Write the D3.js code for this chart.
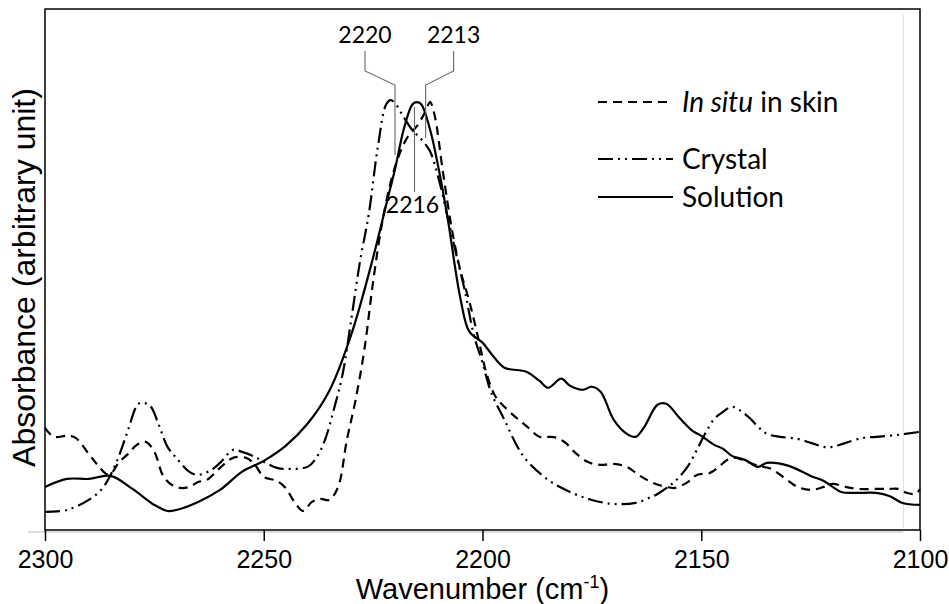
<!DOCTYPE html>
<html>
<head>
<meta charset="utf-8">
<script src="https://cdn.jsdelivr.net/npm/d3@7"></script>
<style>
    body { margin: 0; background: #fff; }
    #spectrum-vis { width: 949px; height: 604px; }
</style>
</head>
<body>
<div id="spectrum-vis"></div>
<script>

// wavenumber (cm-1) / absorbance pairs
var solutionWn = [2300, 2295, 2290, 2285, 2280, 2275, 2272, 2270, 2265, 2260, 2255, 2250, 2245, 2240, 2235, 2230, 2225, 2222, 2220, 2218, 2216, 2215, 2214, 2212, 2210, 2208, 2205, 2203, 2200, 2198, 2195, 2190, 2187, 2185, 2182, 2180, 2177, 2175, 2173, 2170, 2167, 2165, 2163, 2160, 2158, 2155, 2152, 2150, 2147, 2145, 2143, 2140, 2137, 2135, 2130, 2125, 2122, 2118, 2115, 2110, 2107, 2104, 2100];
var solutionAbs = [10.75, 12.75, 12.75, 13.5, 10.25, 6.25, 4.75, 5, 7, 10, 14.5, 17.25, 21, 26.5, 34.75, 48.75, 68, 81.25, 90, 100, 106.25, 106.75, 106.25, 100, 90, 78, 57.5, 49.5, 46.75, 44, 40.5, 39.5, 37.25, 35.5, 37.75, 36, 35, 35.75, 34.5, 27.5, 24, 23.25, 25.75, 31.25, 31.5, 28, 24.75, 23.5, 21.25, 20.25, 18.5, 17.5, 15.75, 16.75, 16, 13.5, 12.25, 9.5, 9.25, 9.25, 8.5, 6.75, 6.25];

var crystalWn = [2300, 2295, 2290, 2287, 2285, 2283, 2281, 2279, 2278, 2276, 2274, 2272, 2270, 2267, 2265, 2262, 2260, 2257, 2255, 2252, 2250, 2247, 2245, 2240, 2238, 2236, 2234, 2232, 2230, 2228, 2226, 2224, 2222, 2221, 2220, 2218, 2216, 2214, 2212, 2210, 2208, 2206, 2204, 2202, 2200, 2198, 2195, 2192, 2190, 2185, 2180, 2175, 2170, 2165, 2162, 2160, 2157, 2155, 2153, 2151, 2149, 2147, 2145, 2143, 2141, 2139, 2137, 2135, 2132, 2128, 2125, 2122, 2120, 2117, 2113, 2110, 2105, 2100];
var crystalAbs = [4.5, 5, 7.5, 10.25, 13.75, 18.75, 25, 31, 31.75, 31, 26.25, 20.75, 18, 14.5, 13.75, 15, 16.75, 20, 19.5, 18.25, 17, 15.5, 15.25, 15.75, 18, 22.5, 30, 38.75, 52.5, 67, 78.75, 95, 106.25, 107.25, 106.5, 103, 99.75, 97.5, 94.5, 87.5, 78.25, 68.75, 59.5, 48.75, 41.75, 34.25, 27.5, 20.75, 17.5, 12.5, 9.5, 7.5, 6.5, 6.75, 8, 9, 11.25, 13.25, 16, 20, 24.25, 27.75, 29.5, 30.75, 29.75, 28, 25.75, 24, 23.25, 22.75, 21.75, 20.75, 20.75, 21.75, 23, 23.25, 23.75, 24.5];

var inSituWn = [2300, 2298, 2295, 2293, 2290, 2288, 2286, 2285, 2283, 2281, 2279, 2277, 2275, 2273, 2271, 2269, 2267, 2265, 2263, 2260, 2257, 2254, 2252, 2250, 2247, 2245, 2243, 2241, 2239, 2237, 2235, 2233, 2231, 2229, 2227, 2225, 2223, 2221, 2219, 2217, 2215, 2213, 2212, 2211, 2209, 2207, 2205, 2203, 2201, 2199, 2197, 2195, 2192, 2190, 2187, 2185, 2183, 2181, 2179, 2176, 2173, 2170, 2167, 2164, 2161, 2158, 2156, 2153, 2151, 2148, 2146, 2144, 2142, 2140, 2137, 2134, 2131, 2128, 2125, 2122, 2120, 2117, 2114, 2110, 2107, 2105, 2103, 2101, 2100];
var inSituAbs = [25.5, 23.25, 23.5, 23, 19, 16.25, 14, 14, 17, 19, 21.25, 22, 19.5, 13.5, 11.25, 10.5, 10.75, 12, 12.5, 15.5, 18, 18, 16.25, 13.25, 12.25, 10.5, 7, 4.75, 7, 7.75, 7.5, 10.75, 22.5, 32.5, 45, 62, 76.25, 86.75, 93.75, 98.25, 100.75, 104.5, 106.75, 103.75, 89, 75, 64.5, 57, 48, 38.75, 33.25, 30.75, 27.75, 26, 23.25, 23.25, 23, 21.75, 19.5, 17, 16.25, 16.5, 15.75, 13.5, 11.75, 10.75, 10.5, 12, 13.75, 14.25, 15.75, 17.5, 18, 17.25, 16, 15.25, 13, 10.75, 10, 10.75, 11.5, 10.75, 10.25, 10.25, 10.25, 10.25, 9.25, 9, 10.25];

var seriesNames = ["In situ in skin", "Crystal", "Solution"];
var xTicks = [2300, 2250, 2200, 2150, 2100];
var peakLabels = [2220, 2213, 2216];


function Spectrum() {
    var self = this;
    self.init();
};

Spectrum.prototype.init = function () {
    var self = this;
    self.margin = { top: 9, right: 29, bottom: 74, left: 45 };
    self.width = 949 - self.margin.left - self.margin.right;
    self.height = 604 - self.margin.top - self.margin.bottom;

    self.svg = d3.select("#spectrum-vis").append("svg")
        .attr("width", 949)
        .attr("height", 604);

    self.g = self.svg.append("g")
        .attr("transform", "translate(" + self.margin.left + "," + self.margin.top + ")");

    self.x = d3.scaleLinear().domain([2300, 2100]).range([0, self.width]);
    self.y = d3.scaleLinear().domain([0, 130]).range([self.height, 0]);
};

Spectrum.prototype.update = function () {
    var self = this;
    var g = self.g, x = self.x, y = self.y;

    var series = [
        { name: seriesNames[0], wn: inSituWn, abs: inSituAbs, dash: "9,6" },
        { name: seriesNames[1], wn: crystalWn, abs: crystalAbs, dash: "15,5,2,5,2,5" },
        { name: seriesNames[2], wn: solutionWn, abs: solutionAbs, dash: null }
    ];
    series.forEach(function (s) {
        s.points = s.wn.map(function (w, i) { return { wn: w, abs: s.abs[i] }; });
    });

    // faint guide lines left over in the original figure
    g.append("line")
        .attr("x1", -17).attr("x2", x(2103.8))
        .attr("y1", self.height + 2).attr("y2", self.height + 2)
        .attr("stroke", "#bbb").attr("stroke-width", 1);
    g.append("line")
        .attr("x1", x(2103.8)).attr("x2", x(2103.8))
        .attr("y1", 6).attr("y2", self.height - 2)
        .attr("stroke", "#ddd").attr("stroke-width", 1);

    // DRAW THE SPECTRA
    var line = d3.line()
        .x(function (d) { return x(d.wn); })
        .y(function (d) { return y(d.abs); })
        .curve(d3.curveCatmullRom.alpha(0.5));

    g.selectAll(".spectrum")
        .data(series)
        .join("path")
        .attr("class", "spectrum")
        .attr("d", function (d) { return line(d.points); })
        .attr("fill", "none")
        .attr("stroke", "#000")
        .attr("stroke-width", 2.2)
        .attr("stroke-dasharray", function (d) { return d.dash; });

    // FRAME AND AXIS
    g.append("rect")
        .attr("width", self.width)
        .attr("height", self.height)
        .attr("fill", "none")
        .attr("stroke", "#000")
        .attr("stroke-width", 1.5);

    var xAxis = g.append("g")
        .attr("transform", "translate(0," + self.height + ")")
        .call(d3.axisBottom(x)
            .tickValues(xTicks)
            .tickSize(11)
            .tickSizeOuter(0)
            .tickPadding(9)
            .tickFormat(d3.format("d")));
    xAxis.select(".domain").remove();
    xAxis.selectAll(".tick line").attr("stroke", "#000").attr("stroke-width", 1.5);
    xAxis.selectAll(".tick text")
        .attr("fill", "#000")
        .style("font-family", "'Liberation Sans', Arial, sans-serif")
        .style("font-size", "25px");

    var xLabel = self.svg.append("text")
        .attr("x", self.margin.left + self.width / 2)
        .attr("y", 599)
        .attr("text-anchor", "middle")
        .style("font-family", "'Liberation Sans', Arial, sans-serif")
        .style("font-size", "29px")
        .text("Wavenumber (cm");
    xLabel.append("tspan").attr("dy", -11).style("font-size", "18px").text("-1");
    xLabel.append("tspan").attr("dy", 11).text(")");

    self.svg.append("text")
        .attr("transform", "translate(35," + (self.margin.top + self.height / 2 + 8) + ") rotate(-90)")
        .attr("text-anchor", "middle")
        .style("font-family", "'Liberation Sans', Arial, sans-serif")
        .style("font-size", "32px")
        .text("Absorbance (arbitrary unit)");

    // PEAK ANNOTATIONS
    var ann = g.append("g")
        .style("font-family", "Lato, 'Open Sans', sans-serif")
        .style("font-size", "23px");
    var leader = function (pts) {
        ann.append("path")
            .attr("d", d3.line()(pts))
            .attr("fill", "none")
            .attr("stroke", "#666")
            .attr("stroke-width", 1.1);
    };
    var p0 = x(peakLabels[0]), p1 = x(peakLabels[1]), p2 = x(peakLabels[2]);
    leader([[p0 - 30, 42], [p0 - 30, 62], [p0, 76], [p0, 146]]);
    leader([[p1 + 28, 42], [p1 + 28, 62], [p1, 76], [p1, 129]]);
    leader([[p2 + 2, 98], [p2 + 2, 183]]);
    ann.append("text").attr("x", p0 - 30).attr("y", 34).attr("text-anchor", "middle").text(peakLabels[0]);
    ann.append("text").attr("x", p1 + 28).attr("y", 34).attr("text-anchor", "middle").text(peakLabels[1]);
    ann.append("text").attr("x", p2).attr("y", 204).attr("text-anchor", "middle").text(peakLabels[2]);

    // LEGEND
    var legend = self.svg.append("g")
        .style("font-family", "Lato, 'Open Sans', sans-serif")
        .style("font-size", "28px");
    var legendY = [102, 159, 197];
    var item = legend.selectAll(".item")
        .data(series)
        .join("g")
        .attr("class", "item")
        .attr("transform", function (d, i) { return "translate(598," + legendY[i] + ")"; });
    item.append("line")
        .attr("x1", 0).attr("x2", 75)
        .attr("stroke", "#000")
        .attr("stroke-width", 2.2)
        .attr("stroke-dasharray", function (d) { return d.dash; });
    item.append("text")
        .attr("x", 84)
        .attr("y", 10)
        .each(function (d) {
            var t = d3.select(this);
            if (d.name.indexOf("In situ") == 0) {
                t.append("tspan").style("font-style", "italic").text("In situ");
                t.append("tspan").text(d.name.slice(7));
            } else {
                t.text(d.name);
            }
        });
};

var chart = new Spectrum();
chart.update();

</script>
</body>
</html>
